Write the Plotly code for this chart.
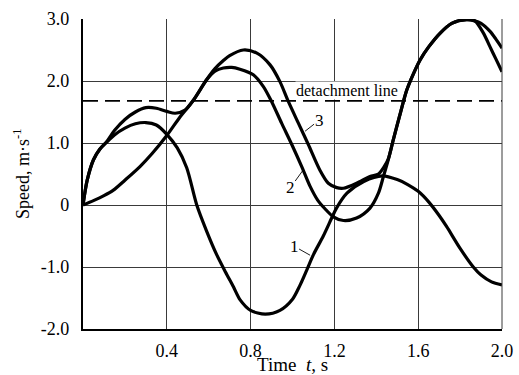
import plotly.graph_objects as go

# ---- data ----
t1 = [0, 0.02, 0.05, 0.08, 0.115, 0.15, 0.2, 0.25, 0.3, 0.35, 0.4, 0.45, 0.495, 0.543,
      0.59, 0.638, 0.68, 0.718, 0.75, 0.8, 0.87, 0.94, 1.0, 1.035, 1.068, 1.1, 1.147,
      1.187, 1.21, 1.26, 1.34, 1.43, 1.5, 1.55, 1.6, 1.65, 1.7, 1.736, 1.8, 1.863, 1.9,
      1.95, 2.0]
v1 = [0, 0.4, 0.73, 0.9, 1.02, 1.13, 1.24, 1.31, 1.33, 1.29, 1.14, 0.92, 0.6, 0.0,
      -0.42, -0.8, -1.08, -1.32, -1.53, -1.7, -1.76, -1.7, -1.52, -1.3, -1.05, -0.8, -0.5,
      -0.21, -0.05, 0.19, 0.38, 0.47, 0.41, 0.33, 0.22, 0.05, -0.17, -0.35, -0.7, -1.0, -1.13,
      -1.24, -1.29]

t2 = [0, 0.05, 0.1, 0.145, 0.2, 0.272, 0.33, 0.4, 0.463, 0.527, 0.59, 0.63, 0.67, 0.71,
      0.749, 0.813, 0.861, 0.9, 0.948, 0.996, 1.044, 1.084, 1.12, 1.155, 1.195, 1.243,
      1.306, 1.37, 1.41, 1.434, 1.457, 1.481, 1.51, 1.545, 1.575, 1.609, 1.65, 1.704,
      1.76, 1.83, 1.87, 1.91, 1.943, 1.97, 2.0]
v2 = [0, 0.07, 0.15, 0.24, 0.4, 0.62, 0.83, 1.12, 1.42, 1.69, 2.02, 2.16, 2.21, 2.22,
      2.19, 2.1, 1.91, 1.67, 1.32, 0.98, 0.62, 0.3, 0.08, -0.06, -0.19, -0.25,
      -0.21, -0.05, 0.19, 0.46, 0.73, 1.05, 1.42, 1.85, 2.1, 2.34, 2.55, 2.77,
      2.93, 2.99, 2.97, 2.78, 2.55, 2.36, 2.15]

t3 = [0, 0.02, 0.05, 0.08, 0.115, 0.15, 0.2, 0.25, 0.3, 0.35, 0.4, 0.44, 0.487, 0.527,
      0.56, 0.59, 0.63, 0.67, 0.7, 0.765, 0.83, 0.893, 0.94, 0.98, 1.028, 1.075, 1.131,
      1.171, 1.211, 1.243, 1.306, 1.37, 1.41, 1.434, 1.457, 1.481, 1.51, 1.545, 1.575,
      1.609, 1.65, 1.704, 1.76, 1.83, 1.87, 1.9, 1.943, 1.97, 2.0]
v3 = [0, 0.4, 0.73, 0.9, 1.03, 1.2, 1.38, 1.5, 1.57, 1.56, 1.51, 1.48, 1.53, 1.69,
      1.86, 2.02, 2.2, 2.33, 2.41, 2.5, 2.45, 2.26, 1.99, 1.67, 1.32, 0.98, 0.56,
      0.35, 0.28, 0.27, 0.35, 0.46, 0.5, 0.6, 0.74, 1.05, 1.42, 1.85, 2.1,
      2.34, 2.55, 2.77, 2.93, 2.99, 2.97, 2.93, 2.8, 2.68, 2.53]

detach_t = [0, 2.0]
detach_v = [1.68, 1.68]

x_ticks = [0.4, 0.8, 1.2, 1.6, 2.0]
x_ticktext = ["0.4", "0.8", "1.2", "1.6", "2.0"]
y_ticks = [-2, -1, 0, 1, 2, 3]
y_ticktext = ["-2.0", "-1.0", "0", "1.0", "2.0", "3.0"]

FONT = "Liberation Serif, Times New Roman, serif"

fig = go.Figure()
fig.add_trace(go.Scatter(x=detach_t, y=detach_v, mode="lines",
                         line=dict(color="black", width=1.8, dash="15px,7px"),
                         hoverinfo="skip"))
for tt, vv in [(t1, v1), (t2, v2), (t3, v3)]:
    fig.add_trace(go.Scatter(x=tt, y=vv, mode="lines",
                             line=dict(color="black", width=3.2, shape="spline", smoothing=0.8),
                             hoverinfo="skip"))

fig.update_layout(
    width=519, height=375,
    margin=dict(l=83, r=17, t=19, b=46, autoexpand=False),
    paper_bgcolor="white", plot_bgcolor="white",
    showlegend=False,
    font=dict(family=FONT, size=18, color="black"),
    xaxis=dict(range=[0, 2.0], tickvals=x_ticks, ticktext=x_ticktext,
               showgrid=True, gridcolor="#3a3a3a", gridwidth=1,
               showline=True, linecolor="black", linewidth=2.2,
               zeroline=False, ticks="", ticklabelstandoff=4, automargin=False,
               title=dict(text="")),
    yaxis=dict(range=[-2.0, 3.0], tickvals=y_ticks, ticktext=y_ticktext,
               showgrid=True, gridcolor="#3a3a3a", gridwidth=1,
               showline=True, linecolor="black", linewidth=2.2,
               zeroline=False, ticks="", ticklabelstandoff=8, automargin=False,
               title=dict(text="")),
)

# right border line (top border is the 3.0 grid line)
fig.add_shape(type="line", xref="paper", yref="paper", x0=1, x1=1, y0=0, y1=1,
              line=dict(color="#3a3a3a", width=1))

# axis titles
fig.add_annotation(xref="paper", yref="paper", x=0.5, y=0, yshift=-35,
                   xanchor="center", yanchor="middle",
                   text="Time  <i>t</i>, s", showarrow=False,
                   font=dict(family=FONT, size=19, color="black"))
fig.add_annotation(xref="paper", yref="paper", x=0, y=0.5, xshift=-62,
                   xanchor="center", yanchor="middle",
                   text="Speed, m·s<sup>-1</sup>", showarrow=False, textangle=-90,
                   font=dict(family=FONT, size=18, color="black"))

fig.add_annotation(x=1.26, y=1.84, text="detachment line", showarrow=False,
                   font=dict(family=FONT, size=16, color="black"),
                   bgcolor="white", borderpad=0)

for txt, ax_t, ax_v, dx, dy in [("3", 1.06, 1.19, 14, -11),
                                 ("2", 1.051, 0.565, -13, 18),
                                 ("1", 1.084, -0.81, -16, -9)]:
    fig.add_annotation(x=ax_t, y=ax_v, text=txt, showarrow=True, arrowhead=0,
                       arrowwidth=0.9, arrowcolor="black", ax=dx, ay=dy,
                       font=dict(family=FONT, size=17, color="black"), borderpad=0)

fig.write_html("out.html", config={"displayModeBar": False},
               post_script="document.body.style.margin='0';")
